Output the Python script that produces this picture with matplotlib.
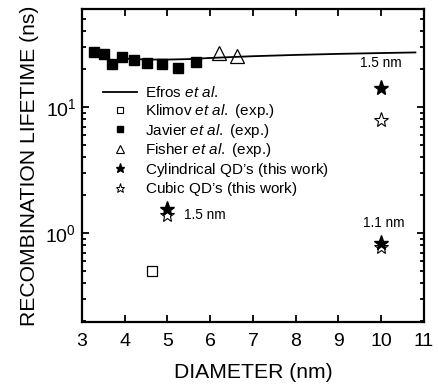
import matplotlib
matplotlib.use("Agg")
import matplotlib.pyplot as plt
from matplotlib.lines import Line2D
from matplotlib.ticker import LogLocator, NullFormatter

plt.rcParams['font.family'] = ['Liberation Sans', 'DejaVu Sans']
plt.rcParams['mathtext.fontset'] = 'custom'
plt.rcParams['mathtext.rm'] = 'Liberation Sans'
plt.rcParams['mathtext.it'] = 'Liberation Sans:italic'

# Data
efros_x = [4.0, 4.5, 5.0, 5.5, 6.0, 6.5, 7.0, 8.0, 9.0, 10.0, 10.8]
efros_y = [24.2, 23.8, 23.8, 24.0, 24.5, 24.9, 25.3, 25.9, 26.4, 26.8, 27.1]
klimov_x = [4.63]
klimov_y = [0.50]
javier_x = [3.29, 3.52, 3.70, 3.94, 4.22, 4.53, 4.88, 5.25, 5.67]
javier_y = [27.5, 26.4, 21.8, 25.0, 23.6, 22.5, 21.8, 20.3, 22.6]
fisher_x = [6.20, 6.62]
fisher_y = [26.8, 25.2]
cyl_x = [5.0, 10.0, 10.0]
cyl_y = [1.54, 14.2, 0.84]
cubic_x = [5.0, 10.0, 10.0]
cubic_y = [1.39, 7.9, 0.77]

fig = plt.figure(figsize=(4.38, 3.88), dpi=100)
ax = fig.add_axes([0.187, 0.170, 0.781, 0.807])

ax.plot(efros_x, efros_y, color='black', lw=1.3, zorder=2)
ax.plot(klimov_x, klimov_y, 's', mfc='white', mec='black', ms=7.5, mew=0.9, zorder=3)
ax.plot(javier_x, javier_y, 's', color='black', ms=6.8, zorder=3)
ax.plot(fisher_x, fisher_y, '^', mfc='none', mec='black', ms=9.5, mew=0.9, zorder=3)
ax.plot(cyl_x, cyl_y, '*', color='black', ms=11, zorder=4)
ax.plot(cubic_x, cubic_y, '*', mfc='white', mec='black', ms=11, mew=0.8, zorder=3)

ax.text(10.0, 19.5, '1.5 nm', fontsize=9.8, ha='center', va='bottom')
ax.text(5.38, 1.39, '1.5 nm', fontsize=9.8, ha='left', va='center')
ax.text(10.05, 1.06, '1.1 nm', fontsize=9.8, ha='center', va='bottom')

ax.set_yscale('log')
ax.set_xlim(3, 11)
ax.set_ylim(0.197, 60)
ax.set_xticks(range(3, 12))
ax.yaxis.set_major_locator(LogLocator(base=10, numticks=10))
ax.yaxis.set_minor_locator(LogLocator(base=10, subs=range(2, 10), numticks=20))
ax.yaxis.set_minor_formatter(NullFormatter())

ax.tick_params(which='both', direction='in', top=True, right=True, width=1.3,
               labelsize=14)
ax.tick_params(axis='x', pad=8)
ax.tick_params(axis='y', pad=4)
ax.tick_params(which='major', length=5)
ax.tick_params(which='minor', length=3)
for s in ax.spines.values():
    s.set_linewidth(1.6)

ax.set_xlabel('DIAMETER (nm)', fontsize=15.2, labelpad=9)
ax.set_ylabel('RECOMBINATION LIFETIME (ns)', fontsize=15.2, labelpad=5)

handles = [
    Line2D([], [], color='black', lw=1.3),
    Line2D([], [], ls='none', marker='s', mfc='white', mec='black', ms=4.5, mew=0.8),
    Line2D([], [], ls='none', marker='s', color='black', ms=4.5),
    Line2D([], [], ls='none', marker='^', mfc='none', mec='black', ms=5.5, mew=0.8),
    Line2D([], [], ls='none', marker='*', color='black', ms=6.5),
    Line2D([], [], ls='none', marker='*', mfc='white', mec='black', ms=6.5, mew=0.7),
]
labels = [
    r'$\mathrm{Efros}$ $\mathit{et\ al.}$',
    r'$\mathrm{Klimov}$ $\mathit{et\ al.}$ (exp.)',
    r'$\mathrm{Javier}$ $\mathit{et\ al.}$ (exp.)',
    r'$\mathrm{Fisher}$ $\mathit{et\ al.}$ (exp.)',
    "$\\mathrm{Cylindrical\\ QD\u2019s}$ (this work)",
    "$\\mathrm{Cubic\\ QD\u2019s}$ (this work)",
]
leg = ax.legend(handles, labels, loc='upper left', bbox_to_anchor=(0.045, 0.775),
                frameon=False, fontsize=11, handlelength=2.2, handletextpad=0.5,
                labelspacing=0.1, borderaxespad=0)

fig.savefig('out.png', dpi=100)
